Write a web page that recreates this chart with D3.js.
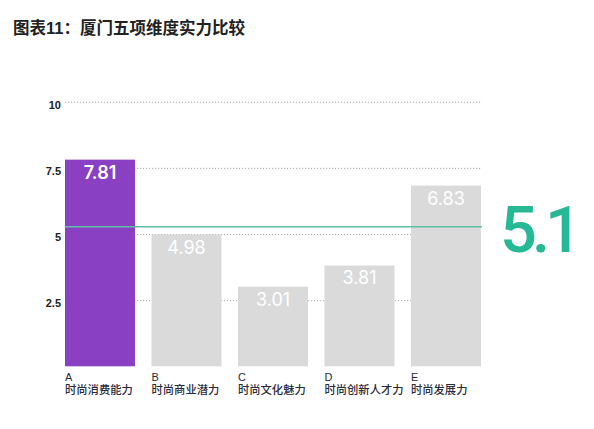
<!DOCTYPE html>
<html>
<head>
<meta charset="utf-8">
<title>图表11</title>
<script src="https://d3js.org/d3.v7.min.js"></script>
<style>
body { margin: 0; background: #fff; }
svg { display: block; }
.title { font-family: "Liberation Sans", "Noto Sans CJK SC", sans-serif; font-weight: bold; font-size: 16.5px; fill: #222; }
.axis text { font-family: "Liberation Sans", sans-serif; font-weight: bold; font-size: 11px; fill: #222; }
.axis line { stroke: #aaa; stroke-dasharray: 1.2 1.8; }
.cat { font-family: "Liberation Sans", "Noto Sans CJK SC", sans-serif; fill: #2a2a3a; }
.val { font-family: "Inter", "Liberation Sans", sans-serif; font-size: 18px; fill: #fff; }
.big { font-family: "Roboto", "Liberation Sans", sans-serif; font-size: 65px; font-weight: 500; fill: #27b996; letter-spacing: -5px; }
</style>
</head>
<body>
<div id="container"></div>
<script>
// data
var letters = ["A", "B", "C", "D", "E"];
var names = ["时尚消费能力", "时尚商业潜力", "时尚文化魅力", "时尚创新人才力", "时尚发展力"];
var values = [7.81, 4.98, 3.01, 3.81, 6.83];
var tickValues = [2.5, 5, 7.5, 10];
var tickLabels = ["2.5", "5", "7.5", "10"];
var avgLine = 5.27;
var avgLabel = "5.1";
var titleText = "图表11：厦门五项维度实力比较";

var width = 594, height = 429;

var svg = d3.select("#container").append("svg")
    .attr("width", width)
    .attr("height", height);

// scales
var x = d3.scaleBand().domain(letters).range([65, 481]).paddingInner(0.19).paddingOuter(0);
var y = d3.scaleLinear().domain([0, 10]).range([366.3, 101.7]);

// title
svg.append("text")
    .attr("class", "title")
    .attr("x", 13)
    .attr("y", 34)
    .text(titleText);

// grid + y labels
var yaxis = d3.axisLeft(y)
    .tickValues(tickValues)
    .tickFormat(function(d, i) { return tickLabels[i]; })
    .tickSize(-(482 - 65))
    .tickPadding(4);

var g = svg.append("g")
    .attr("class", "axis")
    .attr("transform", "translate(65,0)")
    .call(yaxis);
g.select(".domain").remove();
g.selectAll("text").attr("dy", "0.6em");

// bars
svg.selectAll("rect.bar")
    .data(values)
    .enter()
    .append("rect")
    .attr("class", "bar")
    .attr("x", function(d, i) { return x(letters[i]); })
    .attr("y", function(d) { return y(d); })
    .attr("width", x.bandwidth())
    .attr("height", function(d) { return y(0) - y(d); })
    .attr("fill", function(d, i) { return i === 0 ? "#8a40c3" : "#dadada"; });

// value labels
svg.selectAll("text.val")
    .data(values)
    .enter()
    .append("text")
    .attr("class", "val")
    .attr("x", function(d, i) { return x(letters[i]) + x.bandwidth() / 2; })
    .attr("y", function(d) { return y(d) + 19; })
    .attr("text-anchor", "middle")
    .attr("font-weight", function(d, i) { return i === 0 ? 600 : 400; })
    .text(function(d) { return d3.format(".2f")(d); });

// average line
svg.append("line")
    .attr("x1", 65)
    .attr("x2", 482)
    .attr("y1", y(avgLine))
    .attr("y2", y(avgLine))
    .attr("stroke", "#5cbfa6")
    .attr("stroke-width", 1.5);

svg.append("text")
    .attr("class", "big")
    .attr("x", 500)
    .attr("y", 252)
    .text(avgLabel);

// category labels
var cats = svg.selectAll("g.cat")
    .data(letters)
    .enter()
    .append("g")
    .attr("class", "cat")
    .attr("transform", function(d) { return "translate(" + x(d) + ",0)"; });

cats.append("text")
    .attr("y", 380.5)
    .style("font-size", "11px")
    .text(function(d) { return d; });

cats.append("text")
    .attr("y", 394)
    .style("font-size", "11.3px")
    .style("font-family", "'Noto Sans CJK SC', sans-serif")
    .style("font-weight", 500)
    .text(function(d, i) { return names[i]; });
</script>
</body>
</html>
